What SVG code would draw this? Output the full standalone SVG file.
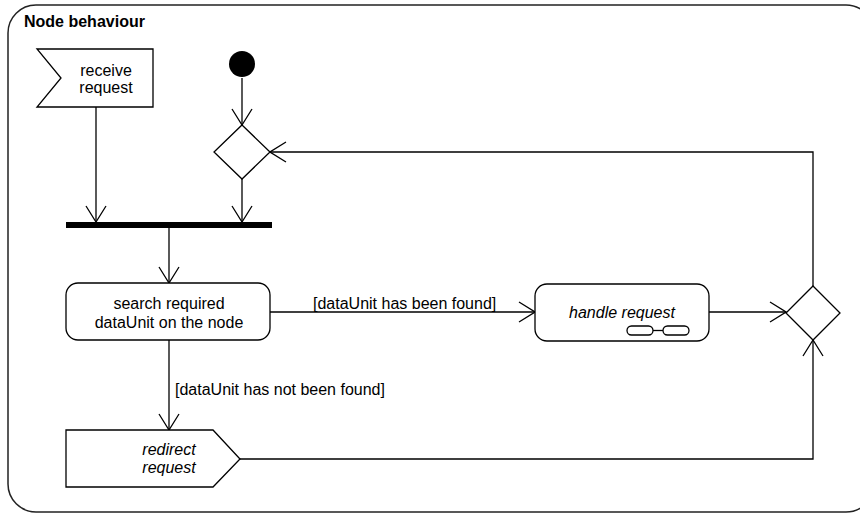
<svg xmlns="http://www.w3.org/2000/svg" width="860" height="515" viewBox="0 0 860 515">
<style>
  .t { font-family: "Liberation Sans", Arial, sans-serif; font-size: 16px; fill: #000; }
  .i { font-style: italic; }
  .shape { fill: #fff; stroke: #000; stroke-width: 1.3; }
  .edge { fill: none; stroke: #000; stroke-width: 1.3; }
</style>
<defs>
  <marker id="arr" viewBox="0 0 18 22" refX="17" refY="11" markerWidth="18" markerHeight="22" markerUnits="userSpaceOnUse" orient="auto">
    <path d="M1,1 L17,11 L1,21" fill="none" stroke="#000" stroke-width="1.3"/>
  </marker>
</defs>
<rect width="860" height="515" fill="#fff"/>
<g id="frame">
  <rect x="8" y="5" width="866" height="507" rx="28" ry="28" fill="none" stroke="#222" stroke-width="1.5"/>
  <text x="24" y="27" class="t" style="font-weight:bold">Node behaviour</text>
</g>
<g id="connectors">
  <line class="edge" x1="96" y1="107" x2="96" y2="222" marker-end="url(#arr)"/>
  <line class="edge" x1="242" y1="78" x2="242" y2="125" marker-end="url(#arr)"/>
  <line class="edge" x1="242" y1="179" x2="242" y2="222" marker-end="url(#arr)"/>
  <line class="edge" x1="169" y1="228" x2="169" y2="283" marker-end="url(#arr)"/>
  <line class="edge" x1="270" y1="312" x2="535" y2="312" marker-end="url(#arr)"/>
  <text x="313" y="309" class="t">[dataUnit has been found]</text>
  <line class="edge" x1="709" y1="312" x2="786" y2="312" marker-end="url(#arr)"/>
  <polyline class="edge" points="813,286 813,152 270,152" marker-end="url(#arr)"/>
  <line class="edge" x1="169" y1="340" x2="169" y2="430" marker-end="url(#arr)"/>
  <text x="175" y="395" class="t">[dataUnit has not been found]</text>
  <polyline class="edge" points="240,459 813,459 813,340" marker-end="url(#arr)"/>
</g>
<g id="receive-request">
  <polygon class="shape" points="37,49 153,49 153,107 37,107 61,78"/>
  <text x="106" y="76" class="t" text-anchor="middle">receive</text>
  <text x="106" y="93" class="t" text-anchor="middle">request</text>
</g>
<g id="initial">
  <circle cx="242" cy="64" r="13" fill="#000"/>
</g>
<g id="decision">
  <polygon class="shape" points="242,125 270,152 242,179 214,152"/>
</g>
<g id="fork">
  <rect x="66" y="222" width="206" height="6" fill="#000"/>
</g>
<g id="search">
  <rect class="shape" x="66" y="283" width="204" height="57" rx="12" ry="12"/>
  <text x="169" y="309" class="t" text-anchor="middle">search required</text>
  <text x="169" y="328" class="t" text-anchor="middle">dataUnit on the node</text>
</g>
<g id="handle-request">
  <rect class="shape" x="535" y="284" width="174" height="57" rx="12" ry="12"/>
  <text x="622" y="318" class="t i" text-anchor="middle">handle request</text>
  <rect class="shape" x="627" y="326" width="26" height="9" rx="4.5" ry="4.5"/>
  <rect class="shape" x="663" y="326" width="26" height="9" rx="4.5" ry="4.5"/>
  <line class="edge" x1="653" y1="330.5" x2="663" y2="330.5"/>
</g>
<g id="merge">
  <polygon class="shape" points="813,286 840,313 813,340 786,313"/>
</g>
<g id="redirect-request">
  <polygon class="shape" points="66,430 213,430 240,459 213,487 66,487"/>
  <text x="169" y="455" class="t i" text-anchor="middle">redirect</text>
  <text x="169" y="473" class="t i" text-anchor="middle">request</text>
</g>
</svg>
